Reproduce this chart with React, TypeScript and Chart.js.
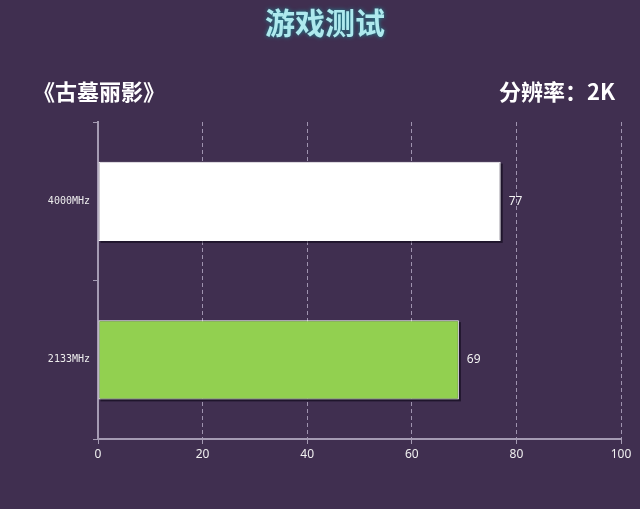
import React, { useEffect, useRef } from 'react';
import { Chart, registerables } from 'chart.js';
Chart.register(...registerables);

const title = '游戏测试';
const gameName = '《古墓丽影》';
const resolution = '分辨率：2K';
const categories = ['4000MHz', '2133MHz'];
const scores = [77, 69];
const barColors = ['#ffffff', '#92d050'];
const xTicks = [0, 20, 40, 60, 80, 100];

const BG = '#402f50';
const AXIS = '#a59bb3';

const headerPlugin = {
	id: 'header',
	beforeDraw(chart: Chart) {
		const { ctx, width, height } = chart;
		ctx.save();
		ctx.fillStyle = BG;
		ctx.fillRect(0, 0, width, height);
		ctx.restore();
	},
	afterDraw(chart: Chart) {
		const { ctx } = chart;
		ctx.save();
		ctx.textBaseline = 'middle';
		ctx.font = 'bold 30px "Noto Sans CJK SC"';
		ctx.textAlign = 'center';
		ctx.shadowColor = '#1f8c96';
		ctx.shadowBlur = 4;
		ctx.fillStyle = '#aee9ee';
		ctx.fillText(title, 325, 23);
		ctx.shadowBlur = 0;
		ctx.font = 'bold 22px "Noto Sans CJK SC"';
		ctx.fillStyle = '#ffffff';
		ctx.textAlign = 'left';
		ctx.fillText(gameName, 33, 92);
		ctx.textAlign = 'right';
		ctx.fillText(resolution, 615, 92);
		ctx.restore();
	},
};

// dark drop shadow behind each bar, then the value labels
const shadowPlugin = {
	id: 'barShadow',
	beforeDatasetsDraw(chart: Chart) {
		const ctx = chart.ctx;
		ctx.save();
		ctx.fillStyle = 'rgba(10,5,20,0.6)';
		chart.getDatasetMeta(0).data.forEach((bar: any) => {
			const left = Math.min(bar.base, bar.x);
			const w = Math.abs(bar.x - bar.base);
			ctx.fillRect(left + 2, bar.y - bar.height / 2 + 2, w, bar.height);
		});
		ctx.restore();
	},
	afterDatasetsDraw(chart: Chart) {
		const ctx = chart.ctx;
		ctx.save();
		ctx.font = '12px "Noto Sans"';
		ctx.fillStyle = '#f2f2f2';
		ctx.textBaseline = 'middle';
		ctx.textAlign = 'left';
		chart.getDatasetMeta(0).data.forEach((bar: any, i: number) => {
			ctx.fillText(String(scores[i]), bar.x + 8, bar.y);
		});
		ctx.restore();
	},
};

const App = () => {
	const ref = useRef<HTMLCanvasElement>(null);

	useEffect(() => {
		if (!ref.current) return;
		const chart = new Chart(ref.current, {
			type: 'bar',
			data: {
				labels: categories,
				datasets: [
					{
						data: scores,
						backgroundColor: barColors,
						borderColor: '#ffffff',
						borderWidth: 1,
						borderSkipped: false,
						barPercentage: 0.5,
						categoryPercentage: 1,
					},
				],
			},
			options: {
				indexAxis: 'y',
				animation: false,
				responsive: false,
				layout: { padding: { top: 122, right: 19, left: 0, bottom: 0 } },
				plugins: {
					legend: { display: false },
					tooltip: { enabled: false },
				},
				scales: {
					x: {
						min: 0,
						max: 100,
						afterBuildTicks: (axis: any) => {
							axis.ticks = xTicks.map((v) => ({ value: v }));
						},
						afterFit: (axis: any) => {
							axis.height = 70;
						},
						grid: {
							color: 'rgba(200,190,215,0.7)',
							lineWidth: 1,
							tickLength: 5,
							tickColor: AXIS,
						},
						border: { display: true, color: AXIS, width: 2, dash: [4, 3] },
						ticks: { color: '#f0f0f0', padding: 3, font: { family: '"Noto Sans"', size: 12 } },
					},
					y: {
						afterFit: (axis: any) => {
							axis.width = 98;
						},
						grid: {
							drawOnChartArea: false,
							tickLength: 5,
							color: AXIS,
						},
						border: { display: true, color: AXIS, width: 2 },
						ticks: { color: '#ececec', padding: 3, font: { family: '"DejaVu Sans Mono"', size: 10 } },
					},
				},
			},
			plugins: [headerPlugin, shadowPlugin],
		});
		return () => chart.destroy();
	}, []);

	return (
		<div style={{ position: 'absolute', left: 0, top: 0, width: 640, height: 509, background: BG }}>
			<canvas ref={ref} width={640} height={509} />
		</div>
	);
};

export default App;
